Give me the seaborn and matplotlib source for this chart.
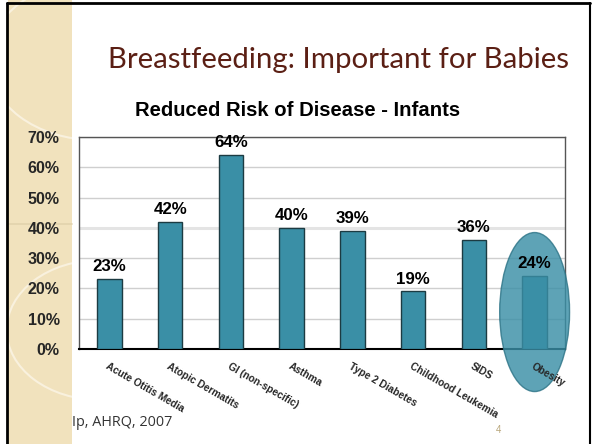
import numpy as np
import pandas as pd
import seaborn as sns
import matplotlib.pyplot as plt
from matplotlib.patches import Ellipse, Rectangle, Circle

# Data
diseases = ['Acute Otitis Media', 'Atopic Dermatits', 'GI (non-specific)', 'Asthma',
            'Type 2 Diabetes', 'Childhood Leukemia', 'SIDS', 'Obesity']
risk_reduction = [23, 42, 64, 40, 39, 19, 36, 24]
yticks = [0, 10, 20, 30, 40, 50, 60, 70]

df = pd.DataFrame({'disease': diseases, 'risk': risk_reduction})

sns.set_theme(style='white')
plt.rcParams['font.family'] = ['Liberation Sans', 'DejaVu Sans']

teal = '#3a8fa6'
fig = plt.figure(figsize=(5.92, 4.44), dpi=100)
fig.patch.set_facecolor('white')

# Slide decoration: beige band on the left, faint arcs, frame
band = Rectangle((8 / 592, 0), 64 / 592, 1, transform=fig.transFigure,
                 facecolor='#f1e2bd', edgecolor='none', zorder=0)
fig.patches.append(band)
for cx, cy, r in [(95, 60, 80), (100, 330, 70)]:
    c = Circle((cx / 592, 1 - cy / 444), r / 444, transform=fig.transFigure,
               facecolor='none', edgecolor='#f9f1de', lw=1.5, zorder=0.5)
    c.set_clip_path(band)
    fig.patches.append(c)
fig.add_artist(plt.Line2D([8 / 592, 72 / 592], [1 - 224 / 444, 1 - 224 / 444],
                          color='#e2d3ad', lw=1.2, zorder=0.6))
fig.add_artist(plt.Line2D([7 / 592, 7 / 592], [0, 1 - 3 / 444], color='black', lw=2))
fig.add_artist(plt.Line2D([7 / 592, 590 / 592], [1 - 3 / 444, 1 - 3 / 444], color='black', lw=2))
fig.add_artist(plt.Line2D([590 / 592, 590 / 592], [0, 1 - 3 / 444], color='black', lw=1.5))

ax = fig.add_axes([79 / 592, 1 - 349 / 444, 486 / 592, 212 / 444])
ax.set_zorder(2)
ax.set_facecolor('white')
sns.barplot(data=df, x='disease', y='risk', color=teal, width=0.4, saturation=1,
            edgecolor='#1c3b42', linewidth=1, ax=ax, zorder=3)

ax.set_ylim(0, 70)
ax.set_yticks(yticks)
ax.set_yticklabels([f'{v}%' for v in yticks], fontsize=11.5, fontweight='bold')
ax.yaxis.grid(True, color='#cfcfcf', lw=1)
ax.axhline(40, color='#e4e4e4', lw=2.2, zorder=1)
ax.set_axisbelow(True)
ax.tick_params(axis='y', length=0, pad=14)
ax.tick_params(axis='x', length=0, pad=9)
ax.set_xlabel('')
ax.set_ylabel('')
ax.set_xticks(range(len(diseases)))
ax.set_xticklabels(diseases, rotation=-30, ha='left', va='top', rotation_mode='anchor',
                   fontsize=7.3, fontweight='bold')
ax.xaxis.set_zorder(6)
for s in ['top', 'right', 'left']:
    ax.spines[s].set_color('#555555')
    ax.spines[s].set_linewidth(1)
ax.spines['bottom'].set_color('black')
ax.spines['bottom'].set_linewidth(1.5)

for i, v in enumerate(risk_reduction):
    ax.text(i, v + 1.6, f'{v}%', ha='center', va='bottom', fontsize=12.2,
            fontweight='bold', color='black', zorder=5)

# highlight ellipse around Obesity
ax.add_patch(Ellipse((7, 12.2), 1.15, 52.5, facecolor=teal, edgecolor='#2d7487',
                     lw=1, alpha=0.82, clip_on=False, zorder=4))

fig.text(338.5 / 592, 1 - 60 / 444, 'Breastfeeding: Important for Babies', ha='center',
         va='center', fontsize=21.2, color='#5b1f14', family=['Lato', 'DejaVu Sans'])
fig.text(297.5 / 592, 1 - 111 / 444, 'Reduced Risk of Disease - Infants', ha='center',
         va='center', fontsize=14.6, fontweight='bold', color='black')
fig.text(72 / 592, 1 - 422 / 444, 'Ip, AHRQ, 2007', ha='left', va='center',
         fontsize=10.4, color='#333333', family=['Open Sans', 'DejaVu Sans'])
fig.text(499 / 592, 1 - 430 / 444, '4', ha='center', va='center', fontsize=7,
         color='#b8a67a')

fig.savefig('out.png', dpi=100)
